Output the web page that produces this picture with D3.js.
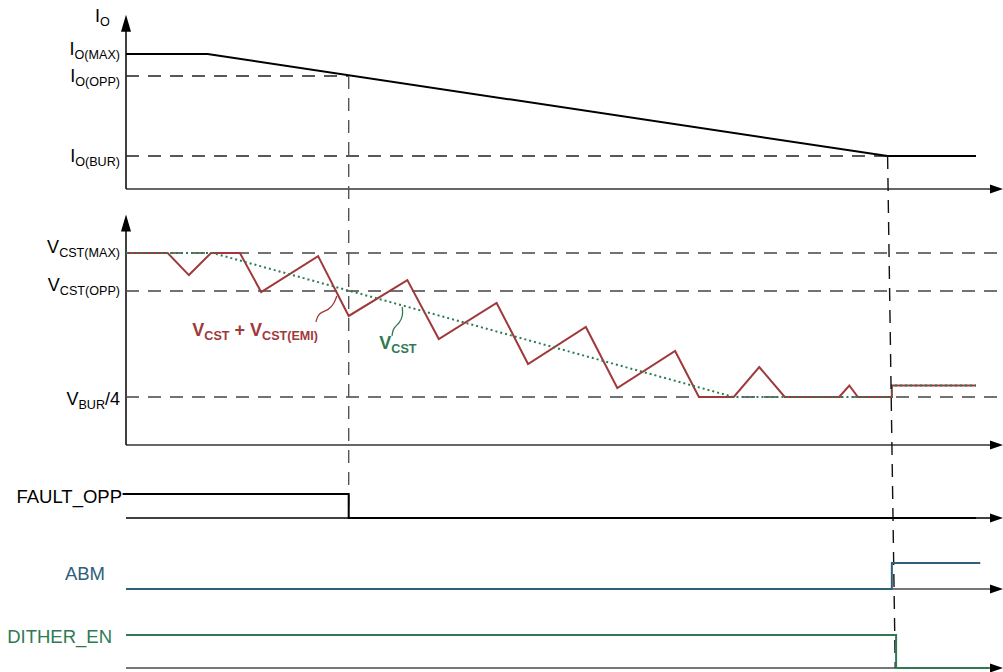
<!DOCTYPE html>
<html lang="en">
<head>
    <meta charset="UTF-8">
    <title>OPP timing</title>
    <script src="https://d3js.org/d3.v7.min.js"></script>
    <style>
        body { margin: 0; background: #fff; }
        text { font-family: "Liberation Sans", Arial, sans-serif; }
    </style>
</head>
<body>
<svg id="timing"></svg>

<script>
    // Time axis is in % of the sweep, levels are in % of the max level
    let ioTime = [0, 9.6, 89.6, 100];
    let ioValue = [100, 100, 24.4, 24.4];
    let ioLevelSub = ["O(MAX)", "O(OPP)", "O(BUR)"];
    let ioLevelValues = [100, 83.7, 24.4];

    let vLevelSub = ["CST(MAX)", "CST(OPP)", "BUR"];
    let vLevelTail = ["", "", "/4"];
    let vLevelValues = [100, 80.2, 25];

    // V_CST + V_CST(EMI) (red) and V_CST (green dotted)
    let emiTime = [0, 4.9, 7.4, 10.0, 13.4, 15.9, 22.6, 26.2, 33.1, 36.8, 43.6, 47.3, 54.1, 57.8, 64.6, 67.4, 71.5, 74.5, 77.5, 83.9, 85.1, 86.1, 90.1, 90.1, 100];
    let emiValue = [100, 100, 88.5, 100, 100, 79.7, 98.4, 67.2, 85.9, 55.2, 74, 42.2, 61.5, 29.7, 49, 25, 25, 40.6, 25, 25, 31, 25, 25, 31, 31];
    let cstTime = [0, 10.2, 71.5, 90.1, 90.1, 100];
    let cstValue = [100, 100, 25, 25, 31, 31];

    // digital lanes
    let laneNames = ["FAULT_OPP", "ABM", "DITHER_EN"];
    let faultTime = [-0.4, 26.2, 26.2, 100];
    let faultLevel = [1, 1, 0, 0];
    let abmTime = [0, 90.1, 90.1, 100.5];
    let abmLevel = [0, 0, 1, 1];
    let ditherTime = [0, 90.6, 90.6, 101.6];
    let ditherLevel = [1, 1, 0, 0];

    // events
    let oppTime = 26.2;
    let burTimeTop = 89.6, burTimeBottom = 90.5;

    // annotation leaders [time, level]
    let emiLeader = [[22.35, 64.1], [22.6, 68.75], [23.9, 70.3], [24.5, 74], [24.8, 77.6]];
    let cstLeader = [[31.3, 56.8], [31.4, 60.9], [32.2, 63.5], [32.6, 67.7], [32.5, 71.9]];

    let width = 1003, height = 672;
    let red = "#a0393b", green = "#2f7a52", blue = "#2f6079", dashGrey = "#444";

    let svg = d3.select("#timing")
        .attr("width", width)
        .attr("height", height);

    let x = d3.scaleLinear().domain([0, 100]).range([126, 976]);
    let yIo = d3.scaleLinear().domain([0, 100]).range([189, 54]);
    let yV = d3.scaleLinear().domain([0, 100]).range([445, 253]);
    let lanes = [
        d3.scaleLinear().domain([0, 1]).range([518, 494]),
        d3.scaleLinear().domain([0, 1]).range([589, 563]),
        d3.scaleLinear().domain([0, 1]).range([668, 635])
    ];
    let xEnd = width;

    function zip(t, v) {
        return t.map(function (d, i) { return [d, v[i]]; });
    }

    // label with subscripts: parts = [[text, isSub], ...]
    function subText(g, px, py, parts, anchor, size, color, weight) {
        let t = g.append("text")
            .attr("x", px)
            .attr("y", py)
            .attr("text-anchor", anchor)
            .attr("fill", color)
            .attr("font-weight", weight || "normal")
            .attr("font-size", size);
        let down = false;
        parts.forEach(function (p) {
            let s = t.append("tspan").text(p[0]);
            if (p[1]) {
                s.attr("font-size", size * 0.7);
                if (!down) s.attr("dy", 4);
                down = true;
            } else {
                if (down) s.attr("dy", -4);
                down = false;
            }
        });
        return t;
    }

    function arrowRight(yy, color) {
        svg.append("path")
            .attr("d", "M" + xEnd + "," + yy + "L" + (xEnd - 13) + "," + (yy - 4.5) + "L" + (xEnd - 13) + "," + (yy + 4.5) + "Z")
            .attr("fill", color || "#000");
    }

    function arrowUp(xx, yy) {
        svg.append("path")
            .attr("d", "M" + xx + "," + yy + "L" + (xx - 5) + "," + (yy + 17) + "L" + (xx + 5) + "," + (yy + 17) + "Z")
            .attr("fill", "#000");
    }

    function dashed(x1, y1, x2, y2, color) {
        svg.append("line")
            .attr("x1", x1).attr("y1", y1)
            .attr("x2", x2).attr("y2", y2)
            .attr("stroke", color || dashGrey)
            .attr("stroke-width", 1.4)
            .attr("stroke-dasharray", "13,9");
    }

    let line = d3.line()
        .x(function (d) { return x(d[0]); });

// ---------- I_O panel ----------
    svg.append("line")
        .attr("x1", x(0)).attr("x2", xEnd - 10)
        .attr("y1", yIo(0)).attr("y2", yIo(0))
        .attr("stroke", "#666").attr("stroke-width", 2);
    arrowRight(yIo(0));
    svg.append("line")
        .attr("x1", x(0)).attr("x2", x(0))
        .attr("y1", yIo(0)).attr("y2", yIo(129) + 10)
        .attr("stroke", "#000").attr("stroke-width", 1.5);
    arrowUp(x(0), yIo(129));
    subText(svg, 95, 22, [["I", false], ["O", true]], "start", 18, "#000");

    dashed(x(0), yIo(ioLevelValues[1]), x(oppTime), yIo(ioLevelValues[1]), "#222");
    dashed(x(0), yIo(ioLevelValues[2]), x(burTimeTop), yIo(ioLevelValues[2]), "#222");

    ioLevelValues.forEach(function (v, i) {
        subText(svg, 120, yIo(v) + (i === 0 ? 1 : 6), [["I", false], [ioLevelSub[i], true]], "end", 18, "#000");
    });

    svg.append("path")
        .datum(zip(ioTime, ioValue))
        .attr("d", line.y(function (d) { return yIo(d[1]); }))
        .attr("fill", "none")
        .attr("stroke", "#000")
        .attr("stroke-width", 2);

// ---------- V_CST panel ----------
    svg.append("line")
        .attr("x1", x(0)).attr("x2", xEnd - 10)
        .attr("y1", yV(0)).attr("y2", yV(0))
        .attr("stroke", "#666").attr("stroke-width", 2);
    arrowRight(yV(0));
    svg.append("line")
        .attr("x1", x(0)).attr("x2", x(0))
        .attr("y1", yV(0)).attr("y2", yV(120) + 10)
        .attr("stroke", "#000").attr("stroke-width", 1.5);
    arrowUp(x(0), yV(120));

    vLevelValues.forEach(function (v, i) {
        dashed(x(0), yV(v), x(102.8), yV(v));
        let parts = [["V", false], [vLevelSub[i], true]];
        if (vLevelTail[i]) parts.push([vLevelTail[i], false]);
        subText(svg, 120, yV(v) + (i === 2 ? 8 : 0), parts, "end", 18, "#000");
    });

    svg.append("path")
        .datum(zip(emiTime, emiValue))
        .attr("d", line.y(function (d) { return yV(d[1]); }))
        .attr("fill", "none")
        .attr("stroke", red)
        .attr("stroke-width", 2)
        .attr("stroke-linejoin", "miter");

    svg.append("path")
        .datum(zip(cstTime, cstValue))
        .attr("d", line.y(function (d) { return yV(d[1]); }))
        .attr("fill", "none")
        .attr("stroke", green)
        .attr("stroke-width", 2)
        .attr("stroke-dasharray", "2,3");

    let leader = d3.line()
        .x(function (d) { return x(d[0]); })
        .y(function (d) { return yV(d[1]); })
        .curve(d3.curveBasis);

    svg.append("path").datum(emiLeader).attr("d", leader)
        .attr("fill", "none").attr("stroke", red).attr("stroke-width", 1.3);
    svg.append("path").datum(cstLeader).attr("d", leader)
        .attr("fill", "none").attr("stroke", green).attr("stroke-width", 1.3);

    subText(svg, x(7.8), yV(56.8), [["V", false], ["CST", true], [" + V", false], ["CST(EMI)", true]], "start", 18, red, "bold");
    subText(svg, x(29.8), yV(50), [["V", false], ["CST", true]], "start", 18, green, "bold");

// ---------- digital lanes ----------
    let laneData = [zip(faultTime, faultLevel), zip(abmTime, abmLevel), zip(ditherTime, ditherLevel)];
    let laneColors = ["#000", blue, green];
    let laneAxis = ["#000", "#777", "#777"];

    lanes.forEach(function (ly, i) {
        svg.append("line")
            .attr("x1", x(0)).attr("x2", xEnd - 10)
            .attr("y1", ly(0)).attr("y2", ly(0))
            .attr("stroke", laneAxis[i]).attr("stroke-width", i === 0 ? 1.5 : 2);
        arrowRight(ly(0));
    });

    // event lines
    dashed(x(oppTime), yIo(ioLevelValues[1]), x(oppTime), lanes[0](0), "#555");
    dashed(x(burTimeTop), yIo(ioLevelValues[2]), x(burTimeBottom), lanes[2](0), "#111");

    lanes.forEach(function (ly, i) {
        svg.append("path")
            .datum(laneData[i])
            .attr("d", d3.line()
                .x(function (d) { return x(d[0]); })
                .y(function (d) { return ly(d[1]); }))
            .attr("fill", "none")
            .attr("stroke", laneColors[i])
            .attr("stroke-width", 2);
    });

    let laneLabelX = [122, 105, 112];
    let laneLabelY = [503, 580, 643];
    let laneLabelColor = ["#000", blue, green];
    laneNames.forEach(function (name, i) {
        svg.append("text")
            .attr("x", laneLabelX[i])
            .attr("y", laneLabelY[i])
            .attr("text-anchor", "end")
            .attr("font-size", 18.5)
            .attr("fill", laneLabelColor[i])
            .text(name);
    });
</script>
</body>
</html>
